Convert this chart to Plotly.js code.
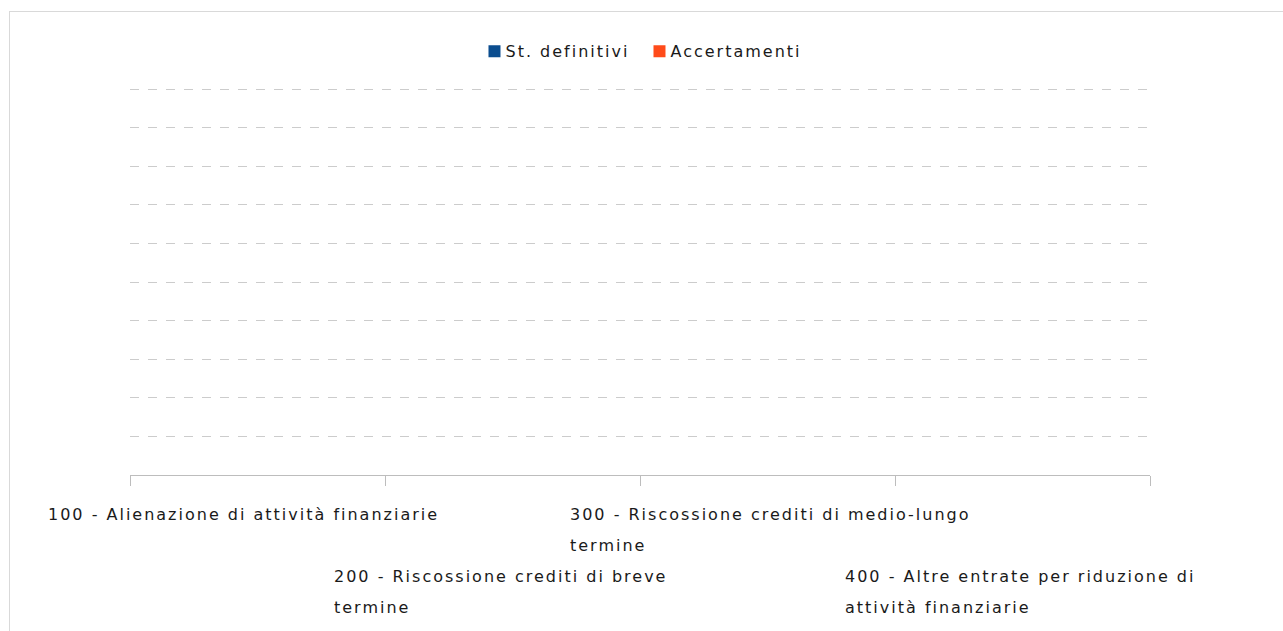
<!DOCTYPE html>
<html>
<head>
<meta charset="utf-8">
<script src="https://cdn.plot.ly/plotly-3.0.1.min.js"></script>
<style>
  html, body { margin: 0; padding: 0; background: #fff; overflow: hidden; }
  #frame { position: absolute; left: 9px; top: 11px; width: 1400px; height: 800px;
           border-left: 1px solid #d9d9d9; border-top: 1px solid #d9d9d9; }
  #chart { position: absolute; left: 0; top: 0; width: 1283px; height: 631px; }
  text.annotation-text, text.legendtext { letter-spacing: 2px; }
  #chart text.legendtext { transform: translateX(-9px); }
</style>
</head>
<body>
<div id="frame"></div>
<div id="chart"></div>
<script>
// ---- data ----
const categories = [
  "100 - Alienazione di attività finanziarie",
  "200 - Riscossione crediti di breve termine",
  "300 - Riscossione crediti di medio-lungo termine",
  "400 - Altre entrate per riduzione di attività finanziarie"
];
const labelLines = [
  ["100 - Alienazione di attività finanziarie"],
  ["200 - Riscossione crediti di breve", "termine"],
  ["300 - Riscossione crediti di medio-lungo", "termine"],
  ["400 - Altre entrate per riduzione di", "attività finanziarie"]
];
const stDefinitivi = [0, 0, 0, 0];
const accertamenti = [0, 0, 0, 0];
const seriesNames = ["St. definitivi", "Accertamenti"];

// ---- layout helpers ----
const FONT = "DejaVu Sans, sans-serif";
const FS = 16;
const labelShift = [-212, -181, -200, -180];   // left edge offset from category centre (px)
const rowOffset = [0, 1, 0, 1];                 // staggered rows
const firstLineY = -39, rowGap = 62, lineGap = 31;

const annotations = [];
labelLines.forEach((lines, i) => {
  lines.forEach((ln, j) => {
    annotations.push({
      x: categories[i], xref: "x", xanchor: "left", xshift: labelShift[i],
      y: 0, yref: "paper", yanchor: "middle",
      yshift: firstLineY - rowOffset[i] * rowGap - j * lineGap,
      text: ln, showarrow: false, align: "left",
      font: { family: FONT, size: FS, color: "#1a1a1a" }
    });
  });
});

const traces = [
  { type: "bar", name: seriesNames[0], x: categories, y: stDefinitivi,
    marker: { color: "#0b4d8f" }, hoverinfo: "none" },
  { type: "bar", name: seriesNames[1], x: categories, y: accertamenti,
    marker: { color: "#ff4b1a" }, hoverinfo: "none" }
];

const layout = {
  width: 1283, height: 631,
  margin: { l: 130, r: 133, t: 88, b: 156, pad: 0 },
  paper_bgcolor: "rgba(0,0,0,0)", plot_bgcolor: "rgba(0,0,0,0)",
  font: { family: FONT, size: FS, color: "#1a1a1a" },
  showlegend: true,
  legend: { orientation: "h", x: 0.4995, xanchor: "center", y: 1.095, yanchor: "middle",
            font: { family: FONT, size: FS, color: "#1a1a1a" }, itemwidth: 30,
            entrywidth: 120, traceorder: "normal" },
  xaxis: {
    type: "category", range: [-0.5, 3.5], showticklabels: false, showgrid: false,
    showline: true, linecolor: "#bdbdbd", linewidth: 1,
    ticks: "outside", ticklen: 10, tickcolor: "#bdbdbd", tickson: "boundaries",
    zeroline: false, fixedrange: true
  },
  yaxis: {
    range: [0, 1.003], dtick: 0.1, showticklabels: false,
    showgrid: true, gridcolor: "#cccccc", griddash: "dash", gridwidth: 1,
    zeroline: false, showline: false, fixedrange: true
  },
  bargap: 0.2,
  annotations: annotations
};

Plotly.newPlot("chart", traces, layout, { displayModeBar: false, staticPlot: true });
</script>
</body>
</html>
